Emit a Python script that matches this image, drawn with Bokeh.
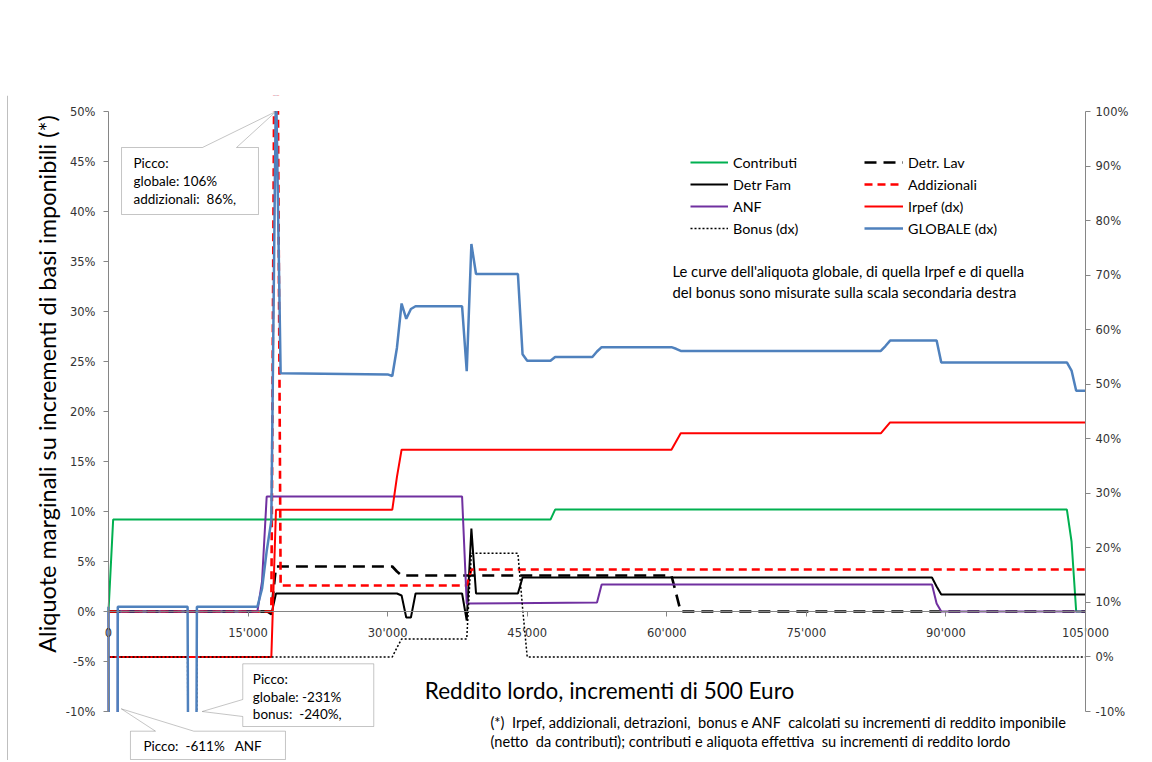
from math import pi
from bokeh.plotting import figure
from bokeh.models import (Range1d, LinearAxis, FixedTicker, PrintfTickFormatter, Label,
                          Legend, LegendItem, PolyAnnotation, Span)
from bokeh.embed import file_html
from bokeh.resources import INLINE

# ---------------- data (reddito lordo in euro, aliquote in %) ----------------
contributi_x = [0, 500, 47500, 48000, 103000, 103500, 104000, 105000]
contributi_y = [0, 9.19, 9.19, 10.19, 10.19, 7.0, 0, 0]

detr_lav_x = [0, 17500, 18000, 30500, 31000, 31500, 60500, 61000, 61500, 105000]
detr_lav_y = [0, 0, 4.5, 4.5, 4.0, 3.6, 3.6, 1.8, 0, 0]

detr_fam_x = [0, 17000, 17500, 18000, 31000, 31500, 32000, 32500, 33000, 38000, 38500, 39000,
              39500, 44000, 44500, 88500, 89000, 89500, 105000]
detr_fam_y = [0, 0, -0.3, 1.8, 1.8, 1.6, -0.6, -0.6, 1.8, 1.8, -0.9, 8.3,
              1.8, 1.8, 3.4, 3.4, 2.5, 1.7, 1.7]

addizionali_x = [0, 17500, 18000, 18500, 38500, 39000, 105000]
addizionali_y = [0, 0, 86, 2.6, 2.6, 4.2, 4.2]

anf_x = [0, 500, 1000, 16000, 16500, 17000, 38000, 38500, 52500, 53000, 88500, 89000, 89500, 105000]
anf_y = [0, -611, 0, 0, 3.0, 11.5, 11.5, 0.8, 0.9, 2.7, 2.7, 0.8, 0, 0]

irpef_x = [0, 17500, 18000, 30500, 31000, 31500, 60500, 61000, 61500, 83000, 83500, 84000, 105000]
irpef_y = [0, 0, 27, 27, 33, 38, 38, 39.5, 41, 41, 42, 43, 43]

bonus_x = [0, 8500, 9000, 9500, 30500, 31000, 31500, 38500, 39000, 44000, 44500, 45000, 105000]
bonus_y = [0, 0, -240, 0, 0, 1.7, 3.3, 3.3, 19, 19, 9, 0, 0]

globale_x = [0, 500, 1000, 8500, 9000, 9500, 16000, 16500, 17000, 17500, 18000, 18500,
             30000, 30500, 31000, 31500, 32000, 32500, 33000, 38000, 38500, 39000, 39500,
             44000, 44500, 45000, 47500, 48000, 52000, 52500, 53000, 60500, 61000, 61500,
             83000, 83500, 84000, 89000, 89500, 103000, 103500, 104000, 105000]
globale_y = [9.2, -600, 9.2, 9.2, -231, 9.2, 9.2, 12.5, 19.4, 25, 106, 52,
             51.8, 51.5, 56.7, 64.8, 62, 63.8, 64.3, 64.3, 52.4, 75.7, 70.2,
             70.2, 55.5, 54.3, 54.3, 55.0, 55.0, 56.0, 56.8, 56.8, 56.5, 56.1,
             56.1, 57.0, 58.0, 58.0, 54.0, 54.0, 52.5, 48.8, 48.8]

x_ticks = [0, 15000, 30000, 45000, 60000, 75000, 90000, 105000]
left_ticks = [-10, -5, 0, 5, 10, 15, 20, 25, 30, 35, 40, 45, 50]
right_ticks = [-10, 0, 10, 20, 30, 40, 50, 60, 70, 80, 90, 100]

# ---------------- figure ----------------
W, H = 1150, 760
EUR_PER_PX = 105000 / 977.0          # plot area 977 px wide
PCT_PER_PX_L = 60 / 600.0            # left axis: -10..50 over 600 px
PCT_PER_PX_R = 110 / 600.0           # right axis: -10..100 over 600 px
X0, Y0 = 108, 111                    # top-left of the axes area on the canvas
TOP = 95                             # frame top (leaves room for the top tick labels)
x_range = Range1d(-X0 * EUR_PER_PX, (W - X0) * EUR_PER_PX)
y_left = Range1d(-10 - (H - Y0 - 600) * PCT_PER_PX_L, 50 + (Y0 - TOP) * PCT_PER_PX_L)
y_right = Range1d(-10 - (H - Y0 - 600) * PCT_PER_PX_R, 100 + (Y0 - TOP) * PCT_PER_PX_R)

p = figure(width=W, height=H, output_backend="svg", toolbar_location=None,
           x_range=x_range, y_range=y_left,
           x_axis_location=None, y_axis_location=None,
           min_border_left=0, min_border_right=0, min_border_top=TOP, min_border_bottom=0,
           background_fill_color="white", border_fill_color="white", outline_line_color=None)
p.extra_y_ranges = {"right": y_right}
p.grid.visible = False

AX = "#868686"
TICK_FONT = "DejaVu Sans"
TICK_COLOR = "#333333"

yl = LinearAxis(ticker=FixedTicker(ticks=left_ticks), formatter=PrintfTickFormatter(format="%d%%"),
                fixed_location=0, bounds=(-10, 50))
yr = LinearAxis(y_range_name="right", ticker=FixedTicker(ticks=right_ticks),
                formatter=PrintfTickFormatter(format="%d%%"), fixed_location=105000,
                bounds=(-10, 100))
xa = LinearAxis(ticker=FixedTicker(ticks=x_ticks), fixed_location=0, bounds=(0, 105000),
                major_label_overrides={t: f"{t:,}".replace(",", "'") for t in x_ticks})
for ax in (yl, yr, xa):
    ax.axis_line_color = AX
    ax.major_tick_line_color = AX
    ax.minor_tick_line_color = None
    ax.major_tick_in = 0
    ax.major_tick_out = 5
    ax.major_label_text_font = TICK_FONT
    ax.major_label_text_font_size = "11.5px"
    ax.major_label_text_color = TICK_COLOR
yl.major_label_standoff = 8
yr.major_label_standoff = 5
xa.major_label_standoff = 9
p.add_layout(yl, "left")
p.add_layout(yr, "right")
p.add_layout(xa, "below")

# ---------------- series ----------------
r_contr = p.line(contributi_x, contributi_y, line_color="#00B050", line_width=2)
r_lav = p.line(detr_lav_x, detr_lav_y, line_color="black", line_width=2.6, line_dash="12 7")
r_fam = p.line(detr_fam_x, detr_fam_y, line_color="black", line_width=2)
r_add = p.line(addizionali_x, addizionali_y, line_color="#FF0000", line_width=2.6, line_dash="8 5")
r_anf = p.line(anf_x, anf_y, line_color="#7030A0", line_width=2)
r_irpef = p.line(irpef_x, irpef_y, line_color="#FF0000", line_width=2, y_range_name="right")
r_bonus = p.line(bonus_x, bonus_y, line_color="black", line_width=1.5, line_dash="2 2",
                 y_range_name="right")
r_glob = p.line(globale_x, globale_y, line_color="#4F81BD", line_width=2.5, y_range_name="right")

# white bands beyond the scales: values off the scales are cut at their ends
p.quad(left=[-900, -900], right=[106000, 106000], bottom=[50.05, -2000], top=[2000, -10.06],
       fill_color="white", fill_alpha=1, line_color=None)

# thin border of the chart area on the left
p.add_layout(Span(location=-101 * EUR_PER_PX, dimension="height", line_color="#bfbfbf",
                  line_width=1))

# ---------------- legends ----------------
LEG = dict(border_line_color=None, background_fill_alpha=0, padding=0, margin=0, spacing=0,
           glyph_height=22, label_height=22, label_standoff=5,
           label_text_font="Lato", label_text_font_size="14.3px", label_text_color="black")
leg1 = Legend(items=[LegendItem(label="Contributi", renderers=[r_contr]),
                     LegendItem(label="Detr Fam", renderers=[r_fam]),
                     LegendItem(label="ANF", renderers=[r_anf]),
                     LegendItem(label="Bonus (dx)", renderers=[r_bonus])],
              location=(690, H - 239), glyph_width=38, **LEG)
leg2 = Legend(items=[LegendItem(label="Detr. Lav", renderers=[r_lav]),
                     LegendItem(label="Addizionali", renderers=[r_add]),
                     LegendItem(label="Irpef (dx)", renderers=[r_irpef]),
                     LegendItem(label="GLOBALE (dx)", renderers=[r_glob])],
              location=(864, H - 239), glyph_width=39, **LEG)
p.add_layout(leg1)
p.add_layout(leg2)

# ---------------- texts ----------------
NB = "\u00a0"


def lab(x, y, text, size, align="left", angle=0, font="Lato", color="black"):
    p.add_layout(Label(x=x, y=y, text=text.replace("  ", NB + NB), text_font=font,
                       text_font_size=size, text_align=align, text_baseline="middle",
                       angle=angle, text_color=color))


lab(-6660, 22.75, "Aliquote marginali su incrementi di basi imponibili (*)", "23.5px",
    align="center", angle=pi / 2)
lab(53840, -7.9, "Reddito lordo, incrementi di 500 Euro", "22.5px", align="center")
lab(60610, 34.1, "Le curve dell'aliquota globale, di quella Irpef e di quella", "14.8px")
lab(60610, 32.0, "del bonus sono misurate sulla scala secondaria destra", "14.8px")

# ---------------- callouts ----------------
CALL = dict(fill_color="white", fill_alpha=1, line_color="#404040", line_width=1)
p.add_layout(PolyAnnotation(xs=[1400, 10100, 18000, 13760, 16120, 16120, 1400],
                            ys=[46.4, 46.4, 50.0, 46.4, 46.4, 39.7, 39.7], **CALL))
p.add_layout(PolyAnnotation(xs=[14430, 28510, 28510, 14430, 14430, 10070, 14430],
                            ys=[-5.23, -5.23, -11.5, -11.5, -10.5, -10.0, -8.8], **CALL))
p.add_layout(PolyAnnotation(xs=[2360, 5050, 1370, 9170, 19020, 19020, 2360],
                            ys=[-11.97, -11.97, -9.73, -11.97, -11.97, -14.8, -14.8], **CALL))

lab(41050, -11.1, "(*)  Irpef, addizionali, detrazioni,  bonus e ANF  calcolati su incrementi di reddito imponibile", "14.6px")
lab(41050, -13.0, "(netto  da contributi); contributi e aliquota effettiva  su incrementi di reddito lordo", "14.6px")
lab(2690, 44.9, "Picco:", "13.5px")
lab(2690, 43.1, "globale: 106%", "13.5px")
lab(2690, 41.3, "addizionali:  86%,", "13.5px")
lab(15510, -6.73, "Picco:", "13.5px")
lab(15510, -8.5, "globale: -231%", "13.5px")
lab(15510, -10.23, "bonus:  -240%,", "13.5px")
lab(3760, -13.4, "Picco:  -611%   ANF", "13.5px")

open("out.html", "w").write(file_html(p, INLINE))
